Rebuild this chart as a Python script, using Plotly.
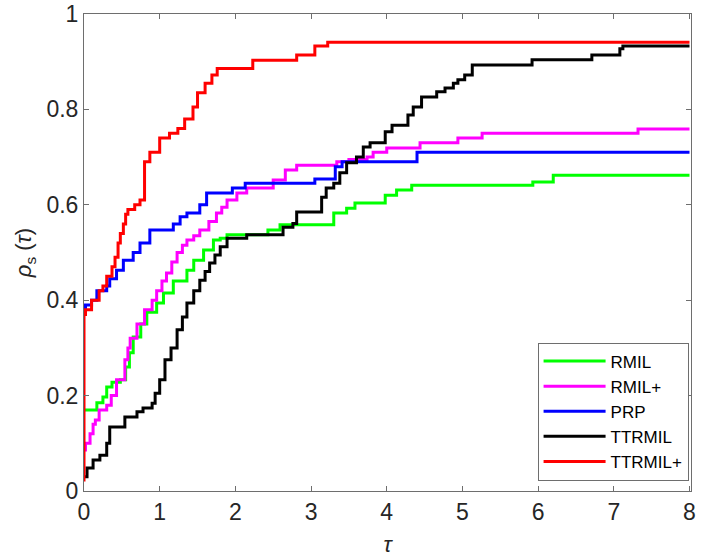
import plotly.graph_objects as go

# performance profile data (tau, rho_s), step points
rmil_x = [0, 0.17, 0.25, 0.3, 0.37, 0.48, 0.55, 0.6, 0.65, 0.75, 0.83, 0.96, 1.05, 1.18,
          1.36, 1.45, 1.58, 1.71, 1.8, 1.89, 2.43, 2.59, 3.3, 3.47, 3.58, 3.98, 4.13,
          4.33, 5.93, 6.2, 8]
rmil_y = [0.17, 0.185, 0.197, 0.218, 0.228, 0.233, 0.26, 0.29, 0.323, 0.35, 0.375, 0.394,
          0.415, 0.44, 0.463, 0.484, 0.505, 0.526, 0.53, 0.537, 0.547, 0.558, 0.583, 0.593,
          0.604, 0.62, 0.631, 0.641, 0.648, 0.662, 0.662]

rmilp_x = [0, 0.02, 0.08, 0.12, 0.15, 0.2, 0.3, 0.36, 0.43, 0.54, 0.58, 0.61, 0.7, 0.8,
           0.9, 0.96, 1.03, 1.09, 1.16, 1.23, 1.3, 1.36, 1.45, 1.53, 1.65, 1.75, 1.82,
           1.89, 2.02, 2.15, 2.5, 2.66, 2.81, 3.34, 3.5, 3.74, 3.82, 4.0, 4.44, 4.94,
           5.26, 7.32, 8]
rmilp_y = [0.086, 0.1, 0.12, 0.14, 0.149, 0.17, 0.18, 0.2, 0.233, 0.275, 0.3, 0.32, 0.35,
           0.38, 0.4, 0.42, 0.44, 0.457, 0.48, 0.5, 0.515, 0.526, 0.535, 0.547, 0.565,
           0.583, 0.595, 0.61, 0.625, 0.635, 0.652, 0.673, 0.683, 0.69, 0.695, 0.70, 0.71,
           0.719, 0.73, 0.74, 0.75, 0.759, 0.759]

prp_x = [0, 0.02, 0.1, 0.17, 0.3, 0.34, 0.43, 0.52, 0.65, 0.74, 0.87, 1.18, 1.27, 1.36,
         1.53, 1.62, 1.96, 2.13, 3.05, 3.32, 3.41, 4.4, 8]
prp_y = [0.375, 0.39, 0.40, 0.42, 0.43, 0.445, 0.463, 0.484, 0.5, 0.52, 0.547, 0.56,
         0.575, 0.583, 0.6, 0.625, 0.635, 0.645, 0.654, 0.68, 0.69, 0.71, 0.71]

ttrmil_x = [0, 0.04, 0.12, 0.21, 0.3, 0.34, 0.54, 0.7, 0.78, 0.9, 0.94, 1.0, 1.07, 1.15,
            1.23, 1.3, 1.36, 1.45, 1.53, 1.6, 1.66, 1.73, 1.8, 1.89, 2.15, 2.63, 2.76,
            2.81, 3.14, 3.2, 3.3, 3.38, 3.47, 3.6, 3.69, 3.78, 3.98, 4.07, 4.28, 4.35,
            4.46, 4.66, 4.77, 4.88, 4.94, 5.03, 5.13, 5.92, 6.71, 7.08, 7.12, 8]
ttrmil_y = [0.03, 0.048, 0.065, 0.075, 0.1, 0.134, 0.155, 0.166, 0.174, 0.184, 0.205,
            0.233, 0.275, 0.3, 0.338, 0.365, 0.394, 0.42, 0.442, 0.46, 0.478, 0.495,
            0.512, 0.53, 0.537, 0.553, 0.561, 0.585, 0.616, 0.635, 0.645, 0.667, 0.688,
            0.7, 0.721, 0.73, 0.753, 0.767, 0.788, 0.805, 0.826, 0.837, 0.845, 0.855,
            0.862, 0.872, 0.893, 0.904, 0.914, 0.927, 0.933, 0.933]

ttrmilp_x = [0, 0, 0.02, 0.1, 0.2, 0.25, 0.3, 0.37, 0.41, 0.45, 0.48, 0.52, 0.55, 0.58,
             0.67, 0.74, 0.8, 0.87, 1.0, 1.13, 1.24, 1.33, 1.44, 1.5, 1.6, 1.69, 1.76,
             2.23, 2.81, 3.05, 3.22, 8]
ttrmilp_y = [0.02, 0.37, 0.38, 0.40, 0.42, 0.43, 0.45, 0.47, 0.49, 0.52, 0.54, 0.56, 0.58,
             0.59, 0.60, 0.61, 0.69, 0.71, 0.74, 0.75, 0.76, 0.78, 0.805, 0.835, 0.855,
             0.872, 0.886, 0.903, 0.914, 0.933, 0.941, 0.941]

series = [
    ("RMIL", rmil_x, rmil_y, "#00ff00"),
    ("RMIL+", rmilp_x, rmilp_y, "#ff00ff"),
    ("PRP", prp_x, prp_y, "#0000ff"),
    ("TTRMIL", ttrmil_x, ttrmil_y, "#000000"),
    ("TTRMIL+", ttrmilp_x, ttrmilp_y, "#ff0000"),
]

fig = go.Figure()
for name, xs, ys, col in series:
    fig.add_trace(go.Scatter(
        x=xs, y=ys, name=name, mode="lines",
        line=dict(color=col, width=3, shape="hv"),
    ))

axis_style = dict(
    showgrid=False, zeroline=False, automargin=False,
    showline=True, linecolor="#6e6e6e", linewidth=1, mirror="ticks",
    ticks="inside", ticklen=5, tickcolor="#6e6e6e",
    tickfont=dict(size=23, color="#262626"),
)

fig.update_layout(
    width=702, height=557,
    margin=dict(l=84, r=11, t=14, b=66),
    plot_bgcolor="white", paper_bgcolor="white",
    font=dict(family="Arial, Liberation Sans, sans-serif", color="#262626"),
    xaxis=dict(range=[0, 8.02], tickvals=[0, 1, 2, 3, 4, 5, 6, 7, 8],
               title=dict(text="<i>τ</i>", font=dict(size=22), standoff=16),
               **axis_style),
    yaxis=dict(range=[0, 1], tickvals=[0, 0.2, 0.4, 0.6, 0.8, 1],
               ticktext=["0", "0.2", "0.4", "0.6", "0.8", "1"],
               title=dict(text="<i>ρ</i><sub>s</sub> (<i>τ</i>)", font=dict(size=22),
                          standoff=8),
               **axis_style),
    legend=dict(
        x=0.996, y=0.022, xanchor="right", yanchor="bottom",
        bgcolor="white", bordercolor="#6e6e6e", borderwidth=1,
        font=dict(size=17, color="#000000"),
        itemwidth=62, tracegroupgap=0,
    ),
)

# drop the page's default body margin so the figure fills the window exactly
fig.write_html("out.html", config={"displayModeBar": False},
               post_script="document.body.style.margin = '0';")
